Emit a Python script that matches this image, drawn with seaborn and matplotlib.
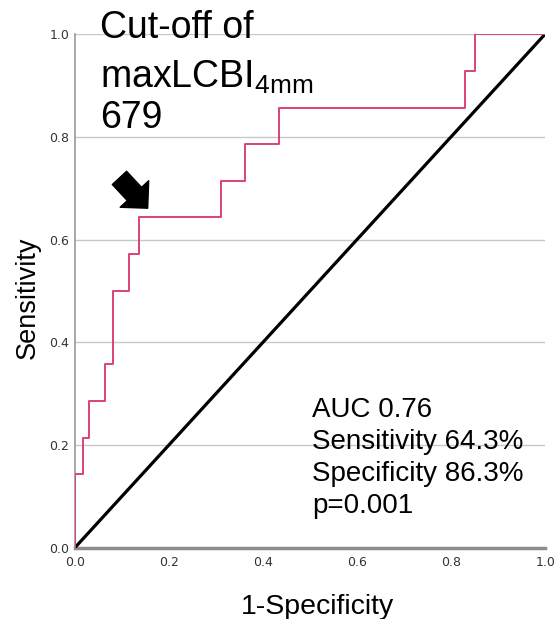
import seaborn as sns
import matplotlib.pyplot as plt
import pandas as pd

# ROC 곡선 (계단형) 좌표 - 그림에서 읽은 값
fpr = [0.0, 0.0, 0.018, 0.018, 0.030, 0.030, 0.064, 0.064, 0.082, 0.082,
       0.115, 0.115, 0.137, 0.137, 0.310, 0.310, 0.361, 0.361, 0.434, 0.434,
       0.830, 0.830, 0.851, 0.851, 1.0]
tpr = [0.0, 0.143, 0.143, 0.214, 0.214, 0.286, 0.286, 0.357, 0.357, 0.500,
       0.500, 0.571, 0.571, 0.643, 0.643, 0.714, 0.714, 0.786, 0.786, 0.857,
       0.857, 0.929, 0.929, 1.0, 1.0]
ref_line = [0.0, 1.0]
ticks = [0.0, 0.2, 0.4, 0.6, 0.8, 1.0]

title_lines = ["Cut-off of", "maxLCBI$_{4mm}$", "679"]
stats_lines = ["AUC 0.76", "Sensitivity 64.3%", "Specificity 86.3%", "p=0.001"]

sns.set_style("white")
plt.rcParams['font.family'] = ['Liberation Sans', 'DejaVu Sans']
plt.rcParams['mathtext.fontset'] = 'custom'
plt.rcParams['mathtext.rm'] = 'Liberation Sans'
plt.rcParams['mathtext.it'] = 'Liberation Sans'

roc = pd.DataFrame({"fpr": fpr, "tpr": tpr})

fig = plt.figure(figsize=(5.58, 6.19), dpi=100)
ax = fig.add_axes([0.134, 0.115, 0.843, 0.83])

ax.plot(ref_line, ref_line, color="black", lw=2.3, zorder=3)
sns.lineplot(data=roc, x="fpr", y="tpr", sort=False, estimator=None,
             color="#da4273", lw=1.4, ax=ax, zorder=4)

ax.set_xlim(0, 1)
ax.set_ylim(0, 1)
ax.set_xticks(ticks)
ax.set_yticks(ticks)
ax.set_xticklabels([f"{t:.1f}" for t in ticks], family="DejaVu Sans",
                   fontsize=9, color="#333333")
ax.set_yticklabels([f"{t:.1f}" for t in ticks], family="DejaVu Sans",
                   fontsize=9, color="#333333")
ax.tick_params(axis="x", length=0, pad=6)
ax.tick_params(axis="y", length=0, pad=4)
ax.yaxis.grid(True, color="#c8c8c8", lw=1)
ax.xaxis.grid(False)
sns.despine(ax=ax)
ax.spines["left"].set_color("#999999")
ax.spines["left"].set_linewidth(1.2)
ax.spines["bottom"].set_color("#8c8c8c")
ax.spines["bottom"].set_linewidth(2.5)

ax.set_xlabel("1-Specificity", fontsize=20.5, labelpad=18, color="black")
ax.set_ylabel("Sensitivity", fontsize=19.5, labelpad=6, color="black")
ax.xaxis.label.set_x(0.516)
ax.yaxis.label.set_y(0.486)

# 좌상단 컷오프 문구 (줄별 기준선 위치)
for txt, y in zip(title_lines, [0.9386, 0.8578, 0.7932]):
    fig.text(0.179, y, txt, fontsize=27, va="baseline", ha="left", color="black")

# 우하단 통계 문구
for i, txt in enumerate(stats_lines):
    fig.text(0.559, 0.3263 - i * 0.0517, txt, fontsize=20, va="baseline",
             ha="left", color="black")

ax.annotate("", xy=(0.155, 0.661), xytext=(0.095, 0.720),
            arrowprops=dict(arrowstyle="simple,head_length=1.0,head_width=2.0,tail_width=1.0",
                            fc="black", ec="black", mutation_scale=14,
                            shrinkA=0, shrinkB=0))

fig.savefig("out.png", dpi=100)
